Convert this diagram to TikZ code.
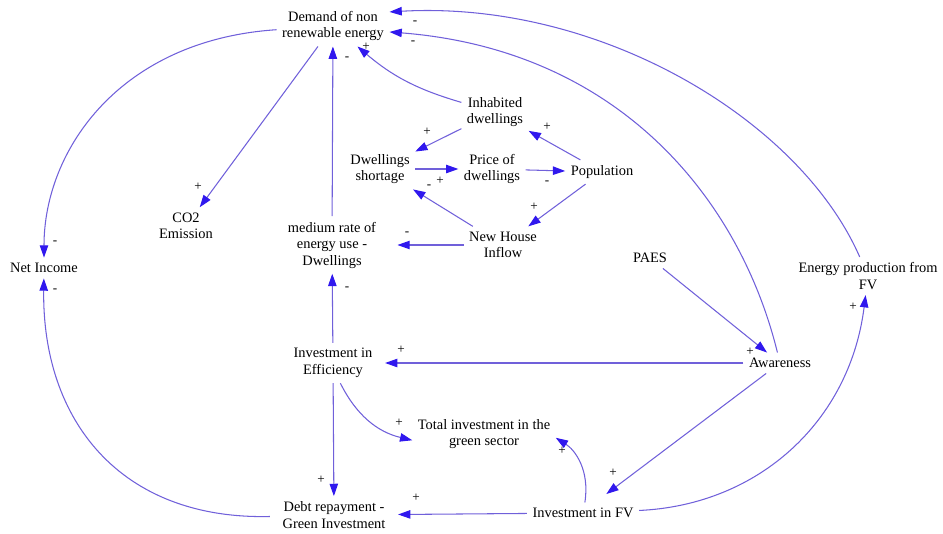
\documentclass[tikz,border=0pt]{standalone}
\usepackage{fontspec}
\setmainfont{Liberation Serif}
\usepackage{xcolor}
\usetikzlibrary{arrows.meta}
\definecolor{linkline}{RGB}{112,96,218}
\definecolor{linktip}{RGB}{48,24,238}

\begin{document}
\begin{tikzpicture}[x=0.02cm, y=-0.02cm,
        var/.style={align=center, inner sep=3pt, font=\fontsize{8.2}{9.4}\selectfont},
        sign/.style={inner sep=0pt, font=\fontsize{7.5}{8}\selectfont},
        link/.style={draw=linkline, line width=0.6pt,
        -{Triangle[length=7pt, width=4.8pt, color=linktip]}}]
        \useasboundingbox (0,0) rectangle (943,534);
        \node[var] (dem) at (333,26) {Demand of non\\renewable energy};
        \node[var] (co2) at (186,226) {CO2\\Emission};
        \node[var] (ninc) at (44,268) {Net Income};
        \node[var, inner xsep=12pt] (med) at (332,245) {medium rate of\\energy use -\\Dwellings};
        \node[var] (inh) at (495,112) {Inhabited\\dwellings};
        \node[var] (dsh) at (380,169) {Dwellings\\shortage};
        \node[var] (pri) at (492,169) {Price of\\dwellings};
        \node[var] (pop) at (602,172) {Population};
        \node[var] (nhi) at (503,245) {New House\\Inflow};
        \node[var] (paes) at (650,258) {PAES};
        \node[var] (epv) at (868,276) {Energy production from\\FV};
        \node[var, inner xsep=7pt] (eff) at (333,363) {Investment in\\Efficiency};
        \node[var] (aw) at (780,363) {Awareness};
        \node[var] (tot) at (484,434) {Total investment in the\\green sector};
        \node[var, inner xsep=7pt] (debt) at (334,515) {Debt repayment -\\Green Investment};
        \node[var] (ifv) at (583,513) {Investment in FV};
        \draw[link] (dem) .. controls (120,40) and (44,150) .. (ninc);
        \draw[link] (debt) .. controls (120,520) and (42,420) .. (ninc);
        \draw[link] (dem) -- (co2);
        \draw[link] (med) -- (dem);
        \draw[link] (inh) to[bend left=12] (dem);
        \draw[link] (aw) .. controls (740,200) and (620,50) .. (dem.-6);
        \draw[link] (epv) .. controls (800,120) and (600,0) .. (dem.14);
        \draw[link] (inh) -- (dsh);
        \draw[link] (dsh) -- (pri);
        \draw[link] (pri) -- (pop);
        \draw[link] (pop) -- (inh);
        \draw[link] (pop) -- (nhi);
        \draw[link] (nhi) -- (dsh);
        \draw[link] (nhi) -- (med);
        \draw[link] (eff) -- (med);
        \draw[link] (aw) -- (eff);
        \draw[link] (paes) -- (aw);
        \draw[link] (eff.-70) to[bend right=25] (tot.185);
        \draw[link] (ifv.80) .. controls (590,470) and (575,450) .. (tot.-3);
        \draw[link, shorten >=8pt] (aw) -- (ifv.41);
        \draw[link] (ifv) -- (debt);
        \draw[link] (ifv) .. controls (760,505) and (850,420) .. (epv);
        \draw[link] (eff) -- (debt);
        \foreach \px/\py/\s [count=\i] in {55/243/-, 55/291/-, 198/187/+, 347/59/-,
                366/47/+, 415/23/-, 413/43/-, 427/132/+, 440/181/+, 429/187/-,
                547/183/-, 547/127/+, 534/207/+, 407/234/-, 347/289/-, 401/350/+,
                750/352/+, 399/423/+, 321/480/+, 562/451/+, 613/473/+, 416/498/+,
                853/307/+}
        \node[sign] (sg\i) at (\px,\py) {\s};
    \end{tikzpicture}
\end{document}
